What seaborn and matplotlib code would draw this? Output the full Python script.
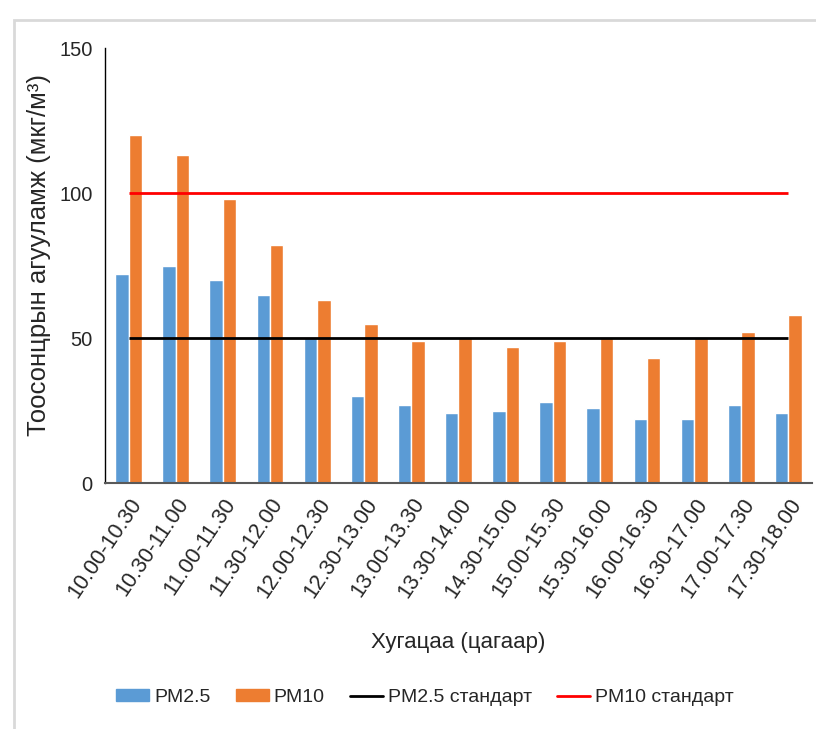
import numpy as np
import pandas as pd
import matplotlib.pyplot as plt
import matplotlib.patches as mpatches
from matplotlib.lines import Line2D
import seaborn as sns

# data
times = ["10.00-10.30", "10.30-11.00", "11.00-11.30", "11.30-12.00", "12.00-12.30",
         "12.30-13.00", "13.00-13.30", "13.30-14.00", "14.30-15.00", "15.00-15.30",
         "15.30-16.00", "16.00-16.30", "16.30-17.00", "17.00-17.30", "17.30-18.00"]
pm25 = [72, 75, 70, 65, 50, 30, 27, 24, 25, 28, 26, 22, 22, 27, 24]
pm10 = [120, 113, 98, 82, 63, 55, 49, 50, 47, 49, 50, 43, 50, 52, 58]
pm25_standard = 50
pm10_standard = 100
series_names = ["PM2.5", "PM10"]
colors = ["#5B9BD5", "#ED7D31"]

df = pd.DataFrame({
    "time": times * 2,
    "value": pm25 + pm10,
    "series": [series_names[0]] * len(times) + [series_names[1]] * len(times),
})

sns.set_style("white")
plt.rcParams['font.family'] = ['Liberation Sans', 'DejaVu Sans']

fig = plt.figure(figsize=(8.16, 7.29), dpi=100)
ax = fig.add_axes([0.1287, 0.3374, 0.8663, 0.5966])

sns.barplot(data=df, x="time", y="value", hue="series", palette=colors,
            width=0.57, saturation=1, ax=ax, legend=False)

xpos = np.arange(len(times))
ax.hlines(pm25_standard, xpos[0], xpos[-1], color="black", linewidth=2)
ax.hlines(pm10_standard, xpos[0], xpos[-1], color="#FF0000", linewidth=2)

ax.set_ylim(0, 150)
ax.set_yticks([0, 50, 100, 150])
ax.set_xlim(-0.5, len(times) - 0.5)
ax.tick_params(axis="y", labelsize=14.5, length=0, pad=9)
ax.tick_params(axis="x", labelsize=15.5, length=0, pad=8)
plt.setp(ax.get_xticklabels(), rotation=56, ha="right", rotation_mode="anchor")

ax.set_xlabel("Хугацаа (цагаар)", fontsize=16, labelpad=22)
ax.set_ylabel("Тоосонцрын агууламж (мкг/м³)", fontsize=18.5)
ax.yaxis.set_label_coords(-0.076, 0.525)

for side in ["top", "right"]:
    ax.spines[side].set_visible(False)
ax.spines["left"].set_color("black")
ax.spines["left"].set_linewidth(1)
ax.spines["bottom"].set_color("#595959")
ax.spines["bottom"].set_linewidth(1.5)

handles = [
    mpatches.Patch(color=colors[0], label="PM2.5"),
    mpatches.Patch(color=colors[1], label="PM10"),
    Line2D([], [], color="black", linewidth=2, label="PM2.5 стандарт"),
    Line2D([], [], color="#FF0000", linewidth=2, label="PM10 стандарт"),
]
fig.legend(handles=handles, loc="center", bbox_to_anchor=(0.521, 0.043), ncol=4,
           frameon=False, fontsize=14, handlelength=1.7, handleheight=0.6,
           handletextpad=0.25, columnspacing=1.3)

# chart-area border like the source
fig.patches.append(mpatches.Rectangle((14 / 816, -0.1), 1.2, 1.1 - 20 / 729,
                                      transform=fig.transFigure, fill=False,
                                      edgecolor="#D9D9D9", linewidth=2))

fig.savefig("out.png", dpi=100)
